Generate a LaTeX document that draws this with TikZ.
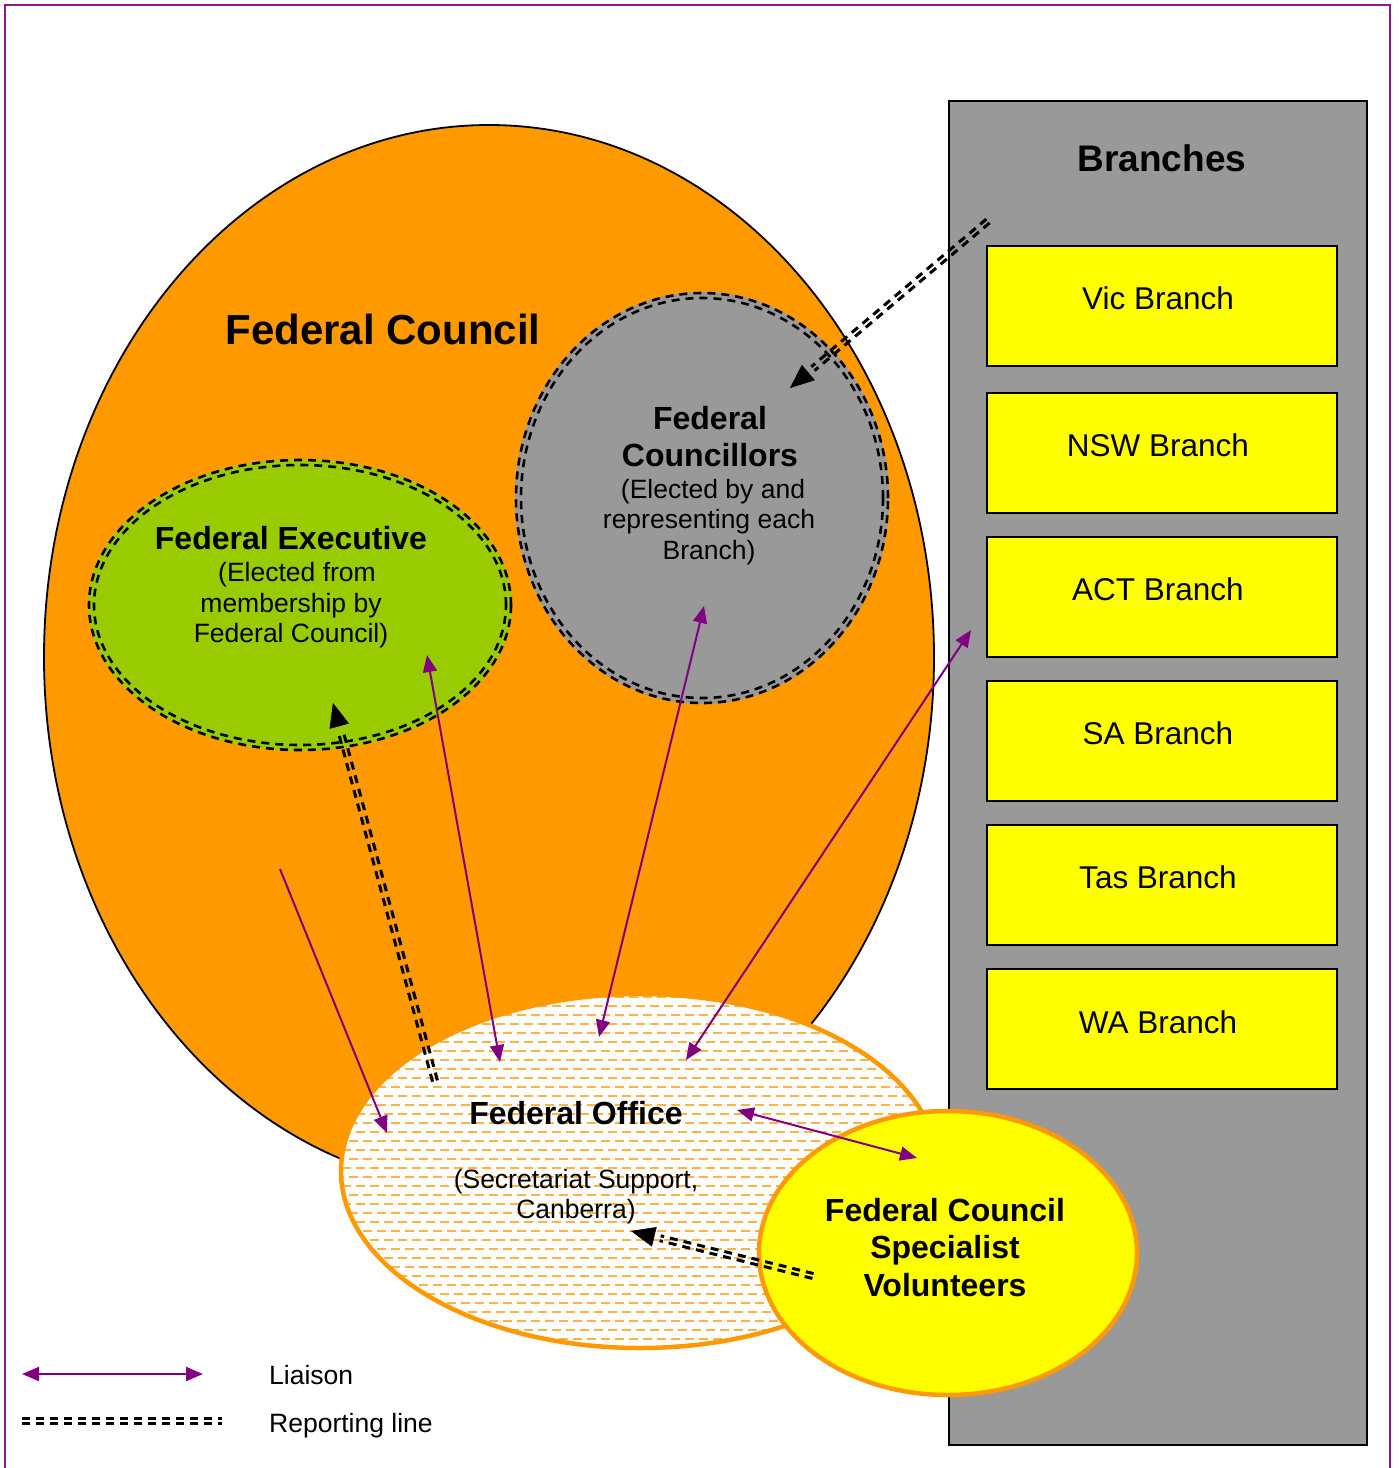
\documentclass[tikz,border=0pt]{standalone}
\usepackage{fontspec}
\setmainfont{Liberation Sans}
\usetikzlibrary{arrows.meta,calc}
\definecolor{framepurple}{RGB}{145,20,145}
\definecolor{liaisoncol}{RGB}{128,0,128}
\definecolor{fcorange}{RGB}{255,153,0}
\definecolor{lightorange}{RGB}{255,178,70}
\definecolor{branchgray}{RGB}{153,153,153}
\definecolor{execgreen}{RGB}{153,204,0}
\definecolor{byellow}{RGB}{255,255,0}
\newcommand\myreport[2]{%
  \draw[repdash] ($(#1)!2.5pt!90:(#2)$) -- ($(#2)!2.5pt!-90:(#1)$);
  \draw[repdash] ($(#1)!2.5pt!-90:(#2)$) -- ($(#2)!2.5pt!90:(#1)$);}
\begin{document}
\begin{tikzpicture}[x=1pt,y=-1pt,
  repdash/.style={black, line width=3pt, dash pattern=on 8pt off 6pt},
  rephead/.style={black, line width=0.5pt, -{Triangle[length=24pt,width=20pt]}},
  liaisonline/.style={draw=liaisoncol, line width=2pt},
  onehead/.style={liaisonline, -{Triangle[length=17pt,width=14pt]}},
  twohead/.style={liaisonline, {Triangle[length=17pt,width=14pt]}-{Triangle[length=17pt,width=14pt]}},
  boldtxt/.style={font=\fontsize{32}{37}\selectfont\bfseries, anchor=base, inner sep=0pt},
  smalltxt/.style={font=\fontsize{26.5}{30.5}\selectfont, anchor=base, inner sep=0pt},
  branchtxt/.style={font=\fontsize{31.5}{36}\selectfont, anchor=base, inner sep=0pt},
  branchbox/.style={fill=byellow, draw=black, line width=2pt},
  borderdash/.style={black, line width=2.6pt, dash pattern=on 8pt off 6pt},
  officedash/.style={lightorange, line width=2pt, dash pattern=on 9pt off 5pt}]
\useasboundingbox (0,0) rectangle (1399,1468);
% frame
\draw[framepurple, line width=2.5pt] (5,1470) -- (5,5) -- (1390,5) -- (1390,1470);
% branches panel
\draw[fill=branchgray, draw=black, line width=2.5pt] (949,101) rectangle (1367,1445);
\node[font=\fontsize{37}{42}\selectfont\bfseries, anchor=base, inner sep=0pt] (branches) at (1162,171) {Branches};
\draw[branchbox] (987,246) rectangle (1337,366);
\draw[branchbox] (987,393) rectangle (1337,513);
\draw[branchbox] (987,537) rectangle (1337,657);
\draw[branchbox] (987,681) rectangle (1337,801);
\draw[branchbox] (987,825) rectangle (1337,945);
\draw[branchbox] (987,969) rectangle (1337,1089);
\node[branchtxt] (vic) at (1158,309) {Vic Branch};
\node[branchtxt] (nsw) at (1158,456) {NSW Branch};
\node[branchtxt] (act) at (1158,600) {ACT Branch};
\node[branchtxt] (sa) at (1158,744) {SA Branch};
\node[branchtxt] (tas) at (1158,888) {Tas Branch};
\node[branchtxt] (wa) at (1158,1033) {WA Branch};
% federal council
\draw[fill=fcorange, draw=black, line width=1.8pt] (489,657) ellipse [x radius=445pt, y radius=532pt];
\node[font=\fontsize{42}{48}\selectfont\bfseries, anchor=base, inner sep=0pt] (fctitle) at (383,344) {Federal Council};
% federal councillors
\fill[branchgray] (702,498) ellipse [x radius=187pt, y radius=206pt];
\draw[borderdash] (702,498) ellipse [x radius=186pt, y radius=205pt];
\draw[borderdash] (702,498) ellipse [x radius=181pt, y radius=200pt];
\node[boldtxt] (fc1) at (710,429.5) {Federal};
\node[boldtxt] (fc2) at (710,466.5) {Councillors};
\node[smalltxt] (fc3) at (713,498.5) {(Elected by and};
\node[smalltxt] (fc4) at (709,528.5) {representing each};
\node[smalltxt] (fc5) at (709,559.5) {Branch)};
% federal executive
\fill[execgreen] (300,605) ellipse [x radius=212pt, y radius=146pt];
\draw[borderdash] (300,605) ellipse [x radius=211pt, y radius=145pt];
\draw[borderdash] (300,605) ellipse [x radius=206pt, y radius=140pt];
\node[boldtxt] (fe1) at (291,549.5) {Federal Executive};
\node[smalltxt] (fe2) at (297,581.5) {(Elected from};
\node[smalltxt] (fe3) at (291,612.5) {membership by};
\node[smalltxt] (fe4) at (291,642.5) {Federal Council)};
% federal office
\begin{scope}
\clip (640,1171) ellipse [x radius=300pt, y radius=178pt];
\fill[white] (330,985) rectangle (950,1360);
\foreach \i in {0,...,40} {
  \pgfmathsetmacro\ph{mod(\i,2)*7}
  \draw[officedash, dash phase=\ph pt] (335,997+\i*9) -- (945,997+\i*9);
}
\end{scope}
\draw[fcorange, line width=4.5pt] (640,1171) ellipse [x radius=299pt, y radius=177pt];
\node[boldtxt] (fo1) at (576,1124.5) {Federal Office};
\node[smalltxt] (fo2) at (576,1188.5) {(Secretariat Support,};
\node[smalltxt] (fo3) at (576,1218.5) {Canberra)};
% specialist volunteers
\draw[fill=byellow, draw=fcorange, line width=4.5pt] (948,1253) ellipse [x radius=189pt, y radius=142pt];
\node[boldtxt] (sv1) at (945,1221.5) {Federal Council};
\node[boldtxt] (sv2) at (945,1258.5) {Specialist};
\node[boldtxt] (sv3) at (945,1296.5) {Volunteers};
% connector end points
\coordinate (l1a) at (280,869);  \coordinate (l1b) at (387,1133);
\coordinate (l2a) at (427,655);  \coordinate (l2b) at (500,1062);
\coordinate (l3a) at (704,606);  \coordinate (l3b) at (599,1037);
\coordinate (l4a) at (971,630);  \coordinate (l4b) at (686,1060);
\coordinate (l5a) at (737,1110); \coordinate (l5b) at (917,1158);
% liaison lines
\draw[onehead] (l1a) -- (l1b);
\draw[twohead] (l2a) -- (l2b);
\draw[twohead] (l3a) -- (l3b);
\draw[twohead] (l4a) -- (l4b);
\draw[twohead] (l5a) -- (l5b);
% reporting lines
\coordinate (r1s) at (435,1081); \coordinate (r1t) at (333,703);
\coordinate (r1e) at ($(r1t)!30pt!(r1s)$);
\coordinate (r1h) at ($(r1t)!24pt!(r1s)$);
\myreport{r1s}{r1e}
\draw[rephead] (r1h) -- (r1t);
\coordinate (r2s) at (988,221); \coordinate (r2t) at (790,388);
\coordinate (r2e) at ($(r2t)!30pt!(r2s)$);
\coordinate (r2h) at ($(r2t)!24pt!(r2s)$);
\myreport{r2s}{r2e}
\draw[rephead] (r2h) -- (r2t);
\coordinate (r3s) at (813,1276); \coordinate (r3t) at (631,1231);
\coordinate (r3e) at ($(r3t)!30pt!(r3s)$);
\coordinate (r3h) at ($(r3t)!24pt!(r3s)$);
\myreport{r3s}{r3e}
\draw[rephead] (r3h) -- (r3t);
% legend
\coordinate (lega) at (22,1374); \coordinate (legb) at (203,1374);
\draw[twohead] (lega) -- (legb);
\node[smalltxt, anchor=base west] (legl) at (269,1384.5) {Liaison};
\coordinate (legc) at (22,1421); \coordinate (legd) at (222,1421);
\myreport{legc}{legd}
\node[smalltxt, anchor=base west] (legr) at (269,1432.5) {Reporting line};
\end{tikzpicture}
\end{document}
